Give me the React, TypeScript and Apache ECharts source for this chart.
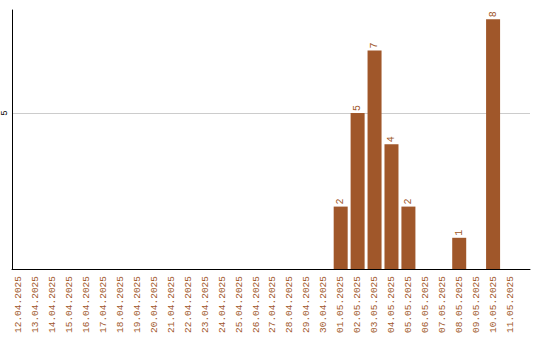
import React, { useEffect, useRef } from "react";
import * as echarts from "echarts";

const dates = [
  "12.04.2025", "13.04.2025", "14.04.2025", "15.04.2025", "16.04.2025",
  "17.04.2025", "18.04.2025", "19.04.2025", "20.04.2025", "21.04.2025",
  "22.04.2025", "23.04.2025", "24.04.2025", "25.04.2025", "26.04.2025",
  "27.04.2025", "28.04.2025", "29.04.2025", "30.04.2025", "01.05.2025",
  "02.05.2025", "03.05.2025", "04.05.2025", "05.05.2025", "06.05.2025",
  "07.05.2025", "08.05.2025", "09.05.2025", "10.05.2025", "11.05.2025",
];
const counts = [
  0, 0, 0, 0, 0, 0, 0, 0, 0, 0,
  0, 0, 0, 0, 0, 0, 0, 0, 0, 2,
  5, 7, 4, 2, 0, 0, 1, 0, 8, 0,
];
const yTicks = [5];

const COLOR = "#A0572A";
const FONT = "Liberation Mono";
const X_MIN = -0.41;
const X_MAX = 30.18;

export default function App() {
  const ref = useRef<HTMLDivElement>(null);
  useEffect(() => {
    const chart = echarts.init(ref.current!, null, { renderer: "svg" });
    const barData = counts
      .map((v, i) => [i, v])
      .filter((d) => d[1] > 0);
    chart.setOption({
      animation: false,
      grid: { left: 10, right: 10, top: 10, bottom: 71, containLabel: false },
      xAxis: {
        type: "value",
        min: X_MIN,
        max: X_MAX,
        axisLine: { show: true, onZero: false, lineStyle: { color: "#000", width: 1 } },
        axisTick: { show: false },
        splitLine: { show: false },
        axisLabel: {
          customValues: dates.map((_, i) => i),
          formatter: (v: number) => dates[Math.round(v)] ?? "",
          rotate: 90,
          margin: 7,
          color: COLOR,
          fontFamily: FONT,
          fontSize: 9.5,
        },
      },
      yAxis: {
        type: "value",
        min: 0,
        max: 8.3,
        interval: 5,
        axisLine: { show: true, onZero: false, lineStyle: { color: "#000", width: 1 } },
        axisTick: { show: false },
        splitLine: { show: true, showMinLine: false, showMaxLine: false, lineStyle: { color: "#ccc", width: 1 } },
        axisLabel: {
          show: true,
          customValues: yTicks,
          formatter: (v: any) => String(v),
          rotate: 90,
          margin: 3,
          color: "#000",
          fontFamily: FONT,
          fontSize: 9,
        },
      },
      series: [
        {
          type: "bar",
          data: barData,
          barWidth: 14,
          itemStyle: { color: COLOR },
          label: {
            show: true,
            position: "top",
            rotate: 90,
            align: "left",
            verticalAlign: "middle",
            distance: 2,
            color: COLOR,
            fontFamily: FONT,
            fontSize: 10,
          },
        },
      ],
    });
    return () => chart.dispose();
  }, []);
  return (
    <div
      ref={ref}
      style={{ position: "absolute", left: 0, top: 0, width: 540, height: 340 }}
    />
  );
}
